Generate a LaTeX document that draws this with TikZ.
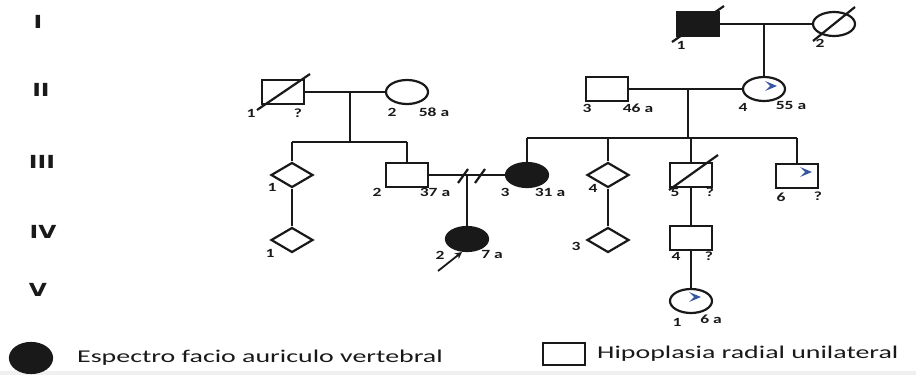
\documentclass[tikz,border=0pt]{standalone}
\usepackage{fontspec}
\usepackage{graphicx}
\setmainfont{Carlito}
\newfontfamily\genfont{DejaVu Sans}
\usetikzlibrary{shapes.geometric,arrows.meta}
\definecolor{chev}{RGB}{55,85,160}
\definecolor{ink}{RGB}{25,25,25}
\newcommand\hs[1]{\scalebox{1.4}[1]{#1}}
\newcommand\hl[1]{\scalebox{1.55}[1]{#1}}
\newcommand\hg[1]{\scalebox{1.3}[1]{#1}}
\tikzset{
  ped/.style={draw=ink,line width=2.2pt,inner sep=0pt,minimum width=42pt,minimum height=24pt},
  male/.style={ped,rectangle},
  female/.style={ped,ellipse},
  unk/.style={ped,diamond,minimum height=25pt},
  aff/.style={fill=ink},
  rel/.style={draw=ink,line width=2.2pt},
  lab/.style={font=\bfseries\fontsize{12.5}{12.5}\selectfont,inner sep=0pt,text=ink},
  gen/.style={font=\genfont\bfseries\fontsize{18}{18}\selectfont,inner sep=0pt,text=ink},
  legtxt/.style={font=\fontsize{18}{18}\selectfont,inner sep=0pt,anchor=west,text=ink},
}
\newcommand\chevron[1]{\begin{scope}[shift={(#1)}]\fill[chev] (-6,-5) -- (6,0) -- (-6,5) -- (-1,0) -- cycle;\end{scope}}
\begin{document}
\begin{tikzpicture}[x=1pt,y=-1pt]
\useasboundingbox (0,0) rectangle (916,375);
\fill[gray!12] (0,371) rectangle (916,375);
% generation labels
\node[gen] (gI) at (38,22) {\hg{I}};
\node[gen] (gII) at (41,90) {\hg{II}};
\node[gen] (gIII) at (42,162) {\hg{III}};
\node[gen] (gIV) at (43,232) {\hg{IV}};
\node[gen] (gV) at (38,290) {\hg{V}};
% Generation I
\node[male,aff] (I1) at (698,24) {};
\node[female] (I2) at (834,24) {};
% Generation II
\node[male] (II1) at (283,92) {};
\node[female] (II2) at (407,92) {};
\node[male] (II3) at (607,89) {};
\node[female] (II4) at (764,89) {};
% Generation III
\node[unk] (III1) at (292,175) {};
\node[male] (III2) at (407,175) {};
\node[female,aff] (III3) at (527,175) {};
\node[unk] (III4) at (608,175) {};
\node[male] (III5) at (691,175) {};
\node[male] (III6) at (797,176) {};
% Generation IV
\node[unk] (IV1) at (292,240) {};
\node[female,aff] (IV2) at (467,239) {};
\node[unk] (IV3) at (608,240) {};
\node[male] (IV4) at (691,238) {};
% Generation V
\node[female] (V1) at (691,301) {};
% deceased slashes
\draw[rel] ([shift={(-26,18)}]I1.center) -- ([shift={(26,-18)}]I1.center);
\draw[rel] ([shift={(-21,17)}]I2.center) -- ([shift={(21,-17)}]I2.center);
\draw[rel] ([shift={(-26,18)}]II1.center) -- ([shift={(27,-18)}]II1.center);
\draw[rel] ([shift={(-22,15)}]III5.center) -- ([shift={(27,-20)}]III5.center);
% chevrons
\chevron{771,86}
\chevron{806,172}
\chevron{695,297}
% relationships gen I
\coordinate (dI) at (764,24);
\draw[rel] (I1.east) -- (I2.west);
\draw[rel] (dI) -- (II4.north);
% II1 x II2
\coordinate (dII) at (350,92);
\coordinate (sII) at (350,142);
\coordinate (sIIa) at (292,142);
\coordinate (sIIb) at (407,142);
\draw[rel] (II1.east) -- (II2.west);
\draw[rel] (dII) -- (sII);
\draw[rel] (sIIa) -- (sIIb);
\draw[rel] (sIIa) -- (III1.north);
\draw[rel] (sIIb) -- (III2.north);
% II3 x II4
\coordinate (dIIb) at (688,89);
\coordinate (sIIIa) at (527,138);
\coordinate (sIIIb) at (797,138);
\draw[rel] (II3.east) -- (II4.west);
\draw[rel] (dIIb) -- (688,138);
\draw[rel] (sIIIa) -- (sIIIb);
\draw[rel] (sIIIa) -- (III3.north);
\draw[rel] (608,138) -- (III4.north);
\draw[rel] (691,138) -- (III5.north);
\draw[rel] (sIIIb) -- (III6.north);
% III2 x III3 (separated)
\coordinate (dIII) at (467,175);
\draw[rel] (III2.east) -- (III3.west);
\draw[rel] (458,183) -- (468,169);
\draw[rel] (475,183) -- (485,169);
\draw[rel] (dIII) -- (IV2.north);
% other descents
\draw[rel] (III1.south) -- (IV1.north);
\draw[rel] (III4.south) -- (IV3.north);
\draw[rel] (III5.south) -- (IV4.north);
\draw[rel] (IV4.south) -- (V1.north);
% proband arrow
\coordinate (pa) at (438,271);
\draw[rel,line width=1.8pt,-{Stealth[length=7pt,width=7pt]}] (pa) -- ([shift={(-5,13)}]IV2.center);
% labels
\node[lab] (l1) at (681,45) {\hs{1}};
\node[lab] (l2) at (820,43) {\hs{2}};
\node[lab] (l3) at (251,113) {\hs{1}};
\node[lab] (l4) at (298,113) {\hs{?}};
\node[lab] (l5) at (392,112) {\hs{2}};
\node[lab] (l6) at (434,112) {\hs{58 a}};
\node[lab] (l7) at (587,108) {\hs{3}};
\node[lab] (l8) at (638,108) {\hs{46 a}};
\node[lab] (l9) at (743,107) {\hs{4}};
\node[lab] (l10) at (791,105) {\hs{55 a}};
\node[lab] (l11) at (272,187) {\hs{1}};
\node[lab] (l12) at (377,192) {\hs{2}};
\node[lab] (l13) at (435,192) {\hs{37 a}};
\node[lab] (l14) at (505,192) {\hs{3}};
\node[lab] (l15) at (550,192) {\hs{31 a}};
\node[lab] (l16) at (593,188) {\hs{4}};
\node[lab] (l17) at (675,192) {\hs{5}};
\node[lab] (l18) at (710,192) {\hs{?}};
\node[lab] (l19) at (781,197) {\hs{6}};
\node[lab] (l20) at (818,196) {\hs{?}};
\node[lab] (l21) at (270,253) {\hs{1}};
\node[lab] (l22) at (440,255) {\hs{2}};
\node[lab] (l23) at (492,254) {\hs{7 a}};
\node[lab] (l24) at (576,246) {\hs{3}};
\node[lab] (l25) at (676,256) {\hs{4}};
\node[lab] (l26) at (709,256) {\hs{?}};
\node[lab] (l27) at (677,322) {\hs{1}};
\node[lab] (l28) at (711,319) {\hs{6 a}};
% legend
\node[ped,ellipse,aff,minimum width=42pt,minimum height=30pt] (L1) at (31,358) {};
\node[legtxt] (L1t) at (77,358) {\hl{Espectro facio auriculo vertebral}};
\node[ped,rectangle,minimum width=42pt,minimum height=22pt] (L2) at (564,354) {};
\node[legtxt] (L2t) at (597,354) {\hl{Hipoplasia radial unilateral}};
\end{tikzpicture}
\end{document}
